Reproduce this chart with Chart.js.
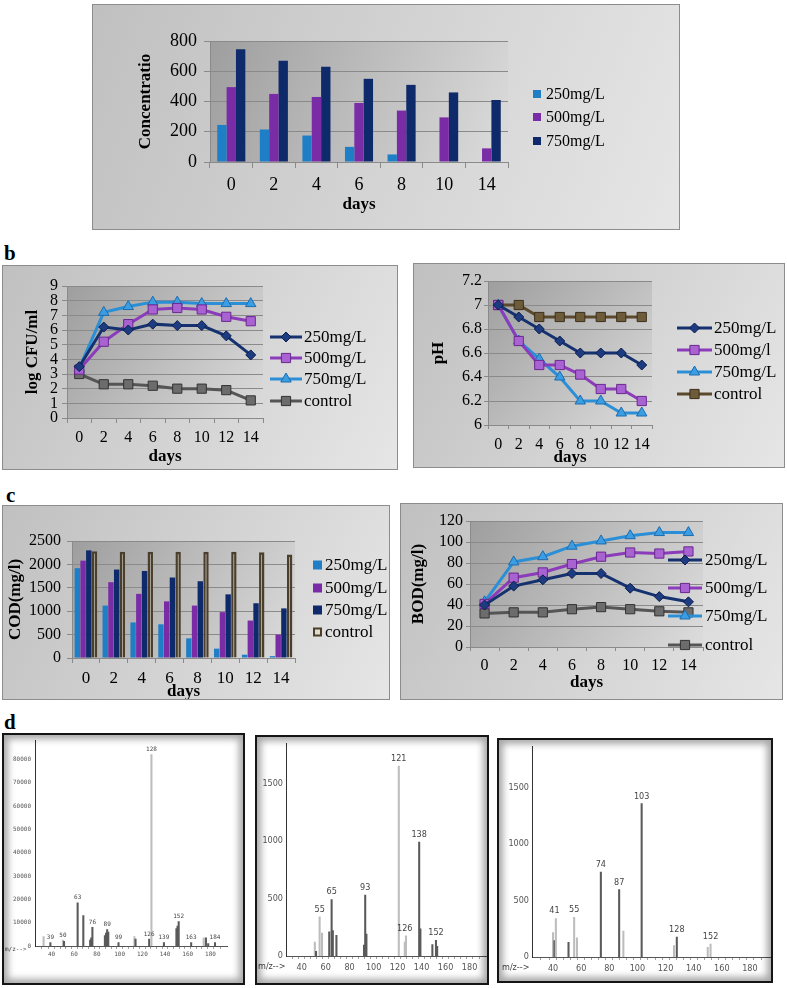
<!DOCTYPE html>
<html><head><meta charset="utf-8">
<script src="https://cdn.jsdelivr.net/npm/chart.js@4.4.0/dist/chart.umd.min.js"></script>
<style>
body{margin:0;background:#fff;width:787px;height:988px;position:relative;overflow:hidden}
canvas{position:absolute}
.frame{position:absolute;box-sizing:border-box;pointer-events:none}
.gray{border:1px solid #8c8c8c}
.ms{border:2px solid #151515;box-shadow:inset 0 0 7px 4px rgba(0,0,0,0.35)}
.lab{position:absolute;font:bold 21px 'Liberation Serif',serif;line-height:21px}
</style></head><body>
<div class="lab" style="left:98px;top:0px">a</div>
<div class="lab" style="left:4px;top:243px">b</div>
<div class="lab" style="left:6px;top:485px">c</div>
<div class="lab" style="left:4px;top:712px">d</div>

<canvas id="ca" width="588" height="226" style="left:92px;top:4px"></canvas>
<div class="frame gray" style="left:92px;top:4px;width:588px;height:226px"></div>
<canvas id="cb1" width="396" height="205" style="left:2px;top:265px"></canvas>
<div class="frame gray" style="left:2px;top:265px;width:396px;height:205px"></div>
<canvas id="cb2" width="372" height="205" style="left:413px;top:263px"></canvas>
<div class="frame gray" style="left:413px;top:263px;width:372px;height:205px"></div>
<canvas id="cc1" width="388" height="195" style="left:2px;top:505px"></canvas>
<div class="frame gray" style="left:2px;top:505px;width:388px;height:195px"></div>
<canvas id="cc2" width="383" height="197" style="left:400px;top:503px"></canvas>
<div class="frame gray" style="left:400px;top:503px;width:383px;height:197px"></div>
<canvas id="cd1" width="243" height="252" style="left:2px;top:733px"></canvas>
<div class="frame ms" style="left:2px;top:733px;width:243px;height:252px"></div>
<canvas id="cd2" width="234" height="250" style="left:255px;top:735px"></canvas>
<div class="frame ms" style="left:255px;top:735px;width:234px;height:250px"></div>
<canvas id="cd3" width="276" height="245" style="left:497px;top:738px"></canvas>
<div class="frame ms" style="left:497px;top:738px;width:276px;height:245px"></div>

<script>
// ---------- data ----------
const DAYS_A = ['0','2','4','6','8','10','14'];
const CONC_250 = [245,215,175,100,50,0,0];
const CONC_500 = [495,450,430,390,340,295,90];
const CONC_750 = [745,670,630,550,510,460,410];

const DAYS = ['0','2','4','6','8','10','12','14'];
const CFU_250 = [3.5,6.2,6.0,6.4,6.3,6.3,5.6,4.3];
const CFU_500 = [3.3,5.2,6.4,7.4,7.5,7.4,6.9,6.6];
const CFU_750 = [3.4,7.2,7.6,7.9,7.9,7.8,7.8,7.8];
const CFU_CTRL = [3.0,2.3,2.3,2.2,2.0,2.0,1.9,1.2];

const PH_250 = [7.0,6.9,6.8,6.7,6.6,6.6,6.6,6.5];
const PH_500 = [7.0,6.7,6.5,6.5,6.42,6.3,6.3,6.2];
const PH_750 = [7.0,6.7,6.55,6.4,6.2,6.2,6.1,6.1];
const PH_CTRL = [7.0,7.0,6.9,6.9,6.9,6.9,6.9,6.9];

const COD_250 = [1920,1120,760,720,420,200,70,40];
const COD_500 = [2080,1620,1370,1210,1120,980,800,500];
const COD_750 = [2300,1890,1860,1720,1640,1360,1170,1060];
const COD_CTRL = [2280,2270,2270,2270,2270,2270,2260,2210];

const BOD_250 = [40,58,64,70,70,56,48,43];
const BOD_500 = [41,66,71,79,86,90,89,91];
const BOD_750 = [43,81,86,96,101,106,109,109];
const BOD_CTRL = [32,33,33,36,38,36,34,33];

const MS_XTICKS = [40,60,80,100,120,140,160,180];

const MS1_MZ  = [33,39,50,51,63,68,74,75,76,87,88,89,90,99,113,114,126,128,139,150,151,152,163,174,176,178,184];
const MS1_INT = [4000,1500,2500,2000,18500,13000,2500,3500,8000,4500,5500,7000,6000,1500,4000,3000,3000,82000,1500,7500,8500,10500,1500,3500,3500,1000,1500];
const MS1_LABELS = [39,50,63,76,89,99,126,128,139,152,163,184];
const MS1_FAINT = [33,50,113,128,174];
const MS1_YTICKS = [0,10000,20000,30000,40000,50000,60000,70000,80000];

const MS2_MZ  = [51,52,55,57,63,65,66,69,92,93,94,121,126,127,138,139,149,152,153];
const MS2_INT = [120,40,340,200,210,490,220,180,95,530,190,1650,120,175,990,235,100,135,85];
const MS2_LABELS = [55,65,93,121,126,138,152];
const MS2_FAINT = [51,55,57,121,126,127];
const MS2_YTICKS = [0,500,1000,1500];

const MS3_MZ  = [40,41,42,51,55,57,74,87,90,103,126,128,150,152];
const MS3_INT = [215,145,340,130,350,170,750,595,230,1355,100,175,85,115];
const MS3_LABELS = [41,55,74,87,103,128,152];
const MS3_FAINT = [40,42,55,57,90,126,150,152];
const MS3_YTICKS = [0,500,1000,1500];

// ---------- styling helpers ----------
const SERIF = "'Liberation Serif','Times New Roman',serif";
const GRID = '#8a8a8a';
const BG = {outer:['#c0c0c0','#e6e6e6'], inner:['#9e9e9e','#dcdcdc']};
const fmt = v => String(Math.round(v*100)/100);

function drawMarker(ctx, style, x, y, r, fill, stroke){
  ctx.beginPath();
  if (style === 'rectRot'){
    ctx.moveTo(x, y-r); ctx.lineTo(x+r, y); ctx.lineTo(x, y+r); ctx.lineTo(x-r, y); ctx.closePath();
  } else if (style === 'rect'){
    const s = r*Math.SQRT1_2; ctx.rect(x-s, y-s, 2*s, 2*s);
  } else if (style === 'triangle'){
    ctx.moveTo(x, y-r);
    ctx.lineTo(x + Math.sin(2*Math.PI/3)*r, y - Math.cos(2*Math.PI/3)*r);
    ctx.lineTo(x + Math.sin(4*Math.PI/3)*r, y - Math.cos(4*Math.PI/3)*r);
    ctx.closePath();
  } else { ctx.arc(x, y, r, 0, Math.PI*2); }
  ctx.fillStyle = fill; ctx.fill();
  ctx.lineWidth = 1; ctx.strokeStyle = stroke; ctx.stroke();
}

const bgPlugin = {
  id:'panelBg',
  beforeDraw(chart, args, o){
    if (!o || !o.outer) return;
    const {ctx, width, height, chartArea:a} = chart;
    ctx.save();
    let g = ctx.createLinearGradient(0, 0, width, height);
    g.addColorStop(0, o.outer[0]); g.addColorStop(1, o.outer[1]);
    ctx.fillStyle = g; ctx.fillRect(0, 0, width, height);
    g = ctx.createLinearGradient(a.left, a.top, a.right, a.bottom);
    g.addColorStop(0, o.inner[0]); g.addColorStop(1, o.inner[1]);
    ctx.fillStyle = g; ctx.fillRect(a.left, a.top, a.width, a.height);
    ctx.restore();
  }
};

const keyPlugin = {
  id:'key',
  afterDraw(chart, args, o){
    if (!o || !o.ys) return;
    const ctx = chart.ctx;
    ctx.save();
    chart.data.datasets.forEach((ds, i) => {
      const y = o.ys[i];
      if (o.type === 'line'){
        ctx.strokeStyle = ds.borderColor; ctx.lineWidth = ds.borderWidth;
        ctx.beginPath(); ctx.moveTo(o.x, y); ctx.lineTo(o.x + o.len, y); ctx.stroke();
        drawMarker(ctx, ds.pointStyle, o.x + o.len/2, y, ds.pointRadius, ds.pointBackgroundColor, ds.pointBorderColor);
      } else {
        const s = o.size;
        ctx.fillStyle = ds.backgroundColor; ctx.fillRect(o.x, y - s/2, s, s);
        if (ds.borderWidth){ ctx.strokeStyle = ds.borderColor; ctx.lineWidth = 2; ctx.strokeRect(o.x+1, y - s/2 + 1, s-2, s-2); }
      }
      ctx.fillStyle = '#000'; ctx.font = o.font; ctx.textBaseline = 'middle'; ctx.textAlign = 'left';
      ctx.fillText(ds.label, o.tx, y + 1);
    });
    ctx.restore();
  }
};

const peakPlugin = {
  id:'peaks',
  afterDatasetsDraw(chart, args, o){
    if (!o || !o.labels) return;
    const ctx = chart.ctx, xs = chart.scales.x, ys = chart.scales.y;
    const pts = chart.data.datasets[0].data;
    ctx.save();
    ctx.font = o.font; ctx.fillStyle = o.color; ctx.textAlign = 'center'; ctx.textBaseline = 'bottom';
    o.labels.forEach(m => {
      let top = 0;
      pts.forEach(p => { if (Math.abs(p.x - m) <= 1 && p.y > top) top = p.y; });
      ctx.fillText(String(m), xs.getPixelForValue(m), ys.getPixelForValue(top) - o.gap);
    });
    ctx.textAlign = 'left'; ctx.textBaseline = 'middle';
    ctx.fillText('m/z-->', o.mzx, o.mzy);
    ctx.restore();
  }
};

Chart.register(bgPlugin, keyPlugin, peakPlugin);

function catAxes(o){
  return {
    x:{offset:true, afterFit:s=>{s.height=o.xh;},
       grid:{offset:true, drawOnChartArea:false, tickLength:o.xtl, color:GRID},
       border:{color:GRID},
       ticks:{font:{family:SERIF,size:o.xfs}, color:'#000', padding:o.xpad, maxRotation:0, autoSkip:false},
       title:{display:true, text:'days', color:'#000', font:{family:SERIF,size:17,weight:'bold'}, padding:{top:0,bottom:o.tpb}}},
    y:{min:o.min, max:o.max, afterFit:s=>{s.width=o.yw;},
       ticks:{stepSize:o.step, autoSkip:false, font:{family:SERIF,size:o.yfs}, color:'#000', padding:o.ypad, callback:fmt},
       grid:{color:GRID, tickLength:o.ytl},
       border:{display:true, color:GRID},
       title:{display:true, text:o.ytitle, color:'#000', font:{family:SERIF,size:17,weight:'bold'}, padding:{top:o.tpt,bottom:0}}}
  };
}

function lineDs(label, data, color, style, r, fill, stroke){
  return {label, data, borderColor:color, backgroundColor:fill, borderWidth:3, pointStyle:style,
          pointRadius:r, pointBackgroundColor:fill, pointBorderColor:stroke, pointBorderWidth:1, tension:0};
}
const NAVY = ['#15316f','#1d3b80','#0c1f4e'];
const PURP = ['#8c3cba','#a862d2','#6a2790'];
const LBLU = ['#2b8fd8','#3b9de2','#1d6cae'];
const GRAYC = ['#555555','#6c6c6c','#333333'];
const BROWN = ['#5a492c','#6d5b3a','#3a2f1b'];

const base = {responsive:false, animation:false, events:[]};

// ---------- a ----------
new Chart(document.getElementById('ca'), {
  type:'bar',
  data:{labels:DAYS_A, datasets:[
    {label:'250mg/L', data:CONC_250, backgroundColor:'#1e7fc7'},
    {label:'500mg/L', data:CONC_500, backgroundColor:'#7a2ba6'},
    {label:'750mg/L', data:CONC_750, backgroundColor:'#0f2a6b'}]},
  options:{...base,
    layout:{padding:{top:37,right:172,left:0,bottom:0}},
    datasets:{bar:{categoryPercentage:0.66, barPercentage:1}},
    plugins:{legend:{display:false}, tooltip:{enabled:false}, panelBg:BG,
      key:{type:'box', x:441, tx:454, ys:[90,113,137], size:8, font:"16px "+SERIF}},
    scales:catAxes({xh:68, xtl:6, xfs:18, xpad:6, tpb:15, min:0, max:800, step:200, yw:118, yfs:18, ypad:7, ytl:6, ytitle:'Concentratio', tpt:43})
  }
});

// ---------- b left ----------
new Chart(document.getElementById('cb1'), {
  type:'line',
  data:{labels:DAYS, datasets:[
    lineDs('250mg/L', CFU_250, NAVY[0], 'rectRot', 5, NAVY[1], NAVY[2]),
    lineDs('500mg/L', CFU_500, PURP[0], 'rect', 6.5, PURP[1], PURP[2]),
    lineDs('750mg/L', CFU_750, LBLU[0], 'triangle', 6, LBLU[1], LBLU[2]),
    lineDs('control', CFU_CTRL, GRAYC[0], 'rect', 6.5, GRAYC[1], GRAYC[2])]},
  options:{...base,
    layout:{padding:{top:21,right:135,left:0,bottom:0}},
    plugins:{legend:{display:false}, tooltip:{enabled:false}, panelBg:BG,
      key:{type:'line', x:268, len:32, tx:302, ys:[72,93,114,136], font:"17px "+SERIF}},
    scales:catAxes({xh:52, xtl:5, xfs:16, xpad:5, tpb:3, min:0, max:9, step:1, yw:65, yfs:16, ypad:4, ytl:5, ytitle:'log CFU/ml', tpt:20})
  }
});

// ---------- b right ----------
new Chart(document.getElementById('cb2'), {
  type:'line',
  data:{labels:DAYS, datasets:[
    lineDs('250mg/L', PH_250, NAVY[0], 'rectRot', 5, NAVY[1], NAVY[2]),
    lineDs('500mg/l', PH_500, PURP[0], 'rect', 6.5, PURP[1], PURP[2]),
    lineDs('750mg/L', PH_750, LBLU[0], 'triangle', 6, LBLU[1], LBLU[2]),
    lineDs('control', PH_CTRL, BROWN[0], 'rect', 6.5, BROWN[1], BROWN[2])]},
  options:{...base,
    layout:{padding:{top:18,right:133,left:0,bottom:0}},
    plugins:{legend:{display:false}, tooltip:{enabled:false}, panelBg:BG,
      key:{type:'line', x:264, len:35, tx:301, ys:[65,87,109,131], font:"17px "+SERIF}},
    scales:catAxes({xh:43, xtl:4, xfs:16, xpad:6, tpb:0, min:6, max:7.2, step:0.2, yw:75, yfs:16, ypad:2, ytl:4, ytitle:'pH', tpt:15})
  }
});

// ---------- c left ----------
new Chart(document.getElementById('cc1'), {
  type:'bar',
  data:{labels:DAYS, datasets:[
    {label:'250mg/L', data:COD_250, backgroundColor:'#1e7fc7'},
    {label:'500mg/L', data:COD_500, backgroundColor:'#7a2ba6'},
    {label:'750mg/L', data:COD_750, backgroundColor:'#0f2a6b'},
    {label:'control', data:COD_CTRL, backgroundColor:'#e2dccd', borderColor:'#4a3f2d', borderWidth:2.5}]},
  options:{...base,
    layout:{padding:{top:36,right:95,left:0,bottom:0}},
    datasets:{bar:{categoryPercentage:0.82, barPercentage:0.95}},
    plugins:{legend:{display:false}, tooltip:{enabled:false}, panelBg:BG,
      key:{type:'box', x:311, tx:323, ys:[60,83,105,127], size:9, font:"17px "+SERIF}},
    scales:catAxes({xh:42, xtl:5, xfs:17, xpad:5, tpb:-2, min:0, max:2500, step:500, yw:70, yfs:16, ypad:6, ytl:5, ytitle:'COD(mg/l)', tpt:3})
  }
});

// ---------- c right ----------
new Chart(document.getElementById('cc2'), {
  type:'line',
  data:{labels:DAYS, datasets:[
    lineDs('250mg/L', BOD_250, NAVY[0], 'rectRot', 5, NAVY[1], NAVY[2]),
    lineDs('500mg/L', BOD_500, PURP[0], 'rect', 6.5, PURP[1], PURP[2]),
    lineDs('750mg/L', BOD_750, LBLU[0], 'triangle', 6, LBLU[1], LBLU[2]),
    lineDs('control', BOD_CTRL, GRAYC[0], 'rect', 6.5, GRAYC[1], GRAYC[2])]},
  options:{...base,
    layout:{padding:{top:18,right:80,left:0,bottom:0}},
    plugins:{legend:{display:false}, tooltip:{enabled:false}, panelBg:BG,
      key:{type:'line', x:268, len:34, tx:305, ys:[57,85,113,142], font:"17px "+SERIF}},
    scales:catAxes({xh:53, xtl:4, xfs:16, xpad:5, tpb:7, min:0, max:120, step:20, yw:70, yfs:16, ypad:3, ytl:4, ytitle:'BOD(mg/l)', tpt:8})
  }
});

// ---------- d spectra ----------
function specChart(id, mz, inten, faint, labels, yticks, o){
  new Chart(document.getElementById(id), {
    type:'bar',
    data:{datasets:[{data:mz.map((m,i)=>({x:m, y:inten[i]})),
      backgroundColor:c => (c.raw && faint.includes(c.raw.x)) ? '#bdbdbd' : '#5a5a5a',
      barThickness:1.4}]},
    options:{...base,
      layout:{padding:{top:5,right:o.pr,left:0,bottom:0}},
      plugins:{legend:{display:false}, tooltip:{enabled:false},
        peaks:{labels:labels, font:o.lfont, color:'#444', gap:o.gap, mzx:o.mzx, mzy:o.mzy}},
      scales:{
        x:{type:'linear', min:o.xmin, max:o.xmax, afterFit:s=>{s.height=o.xh;},
           grid:{display:true, drawOnChartArea:false, drawTicks:true, tickLength:3, color:'#a0a0a0'},
           border:{color:'#555'},
           ticks:{stepSize:5, autoSkip:false, maxRotation:0, font:o.tfont, color:'#555', padding:o.xpad,
                  callback:v => MS_XTICKS.includes(v) ? String(v) : ''}},
        y:{type:'linear', min:0, max:o.ymax, afterFit:s=>{s.width=o.yw;},
           afterBuildTicks:s => { s.ticks = yticks.map(v => ({value:v})); },
           grid:{display:false, drawTicks:false},
           border:{display:true, color:'#333'},
           ticks:{autoSkip:false, font:o.tfont, color:'#555', padding:o.ypad, callback:v => String(v)}}
      }
    }
  });
}
specChart('cd1', MS1_MZ, MS1_INT, MS1_FAINT, MS1_LABELS, MS1_YTICKS,
  {pr:18, xmin:28, xmax:192, xh:39, ymax:88000, yw:33, ypad:4, xpad:2,
   tfont:{family:"'DejaVu Sans Mono',monospace", size:6}, lfont:"6px 'DejaVu Sans Mono',monospace", gap:2, mzx:3, mzy:216});
specChart('cd2', MS2_MZ, MS2_INT, MS2_FAINT, MS2_LABELS, MS2_YTICKS,
  {pr:2, xmin:29.5, xmax:192, xh:29, ymax:1846, yw:31, ypad:3, xpad:3,
   tfont:{family:"'Liberation Sans Narrow','DejaVu Sans Condensed',sans-serif", size:9}, lfont:"9px 'Liberation Sans Narrow','DejaVu Sans Condensed',sans-serif", gap:3, mzx:3, mzy:232});
specChart('cd3', MS3_MZ, MS3_INT, MS3_FAINT, MS3_LABELS, MS3_YTICKS,
  {pr:3, xmin:27.6, xmax:191.7, xh:26, ymax:1861, yw:35, ypad:3, xpad:3,
   tfont:{family:"'Liberation Sans Narrow','DejaVu Sans Condensed',sans-serif", size:9}, lfont:"9px 'Liberation Sans Narrow','DejaVu Sans Condensed',sans-serif", gap:3, mzx:5, mzy:230});
</script>
</body></html>
